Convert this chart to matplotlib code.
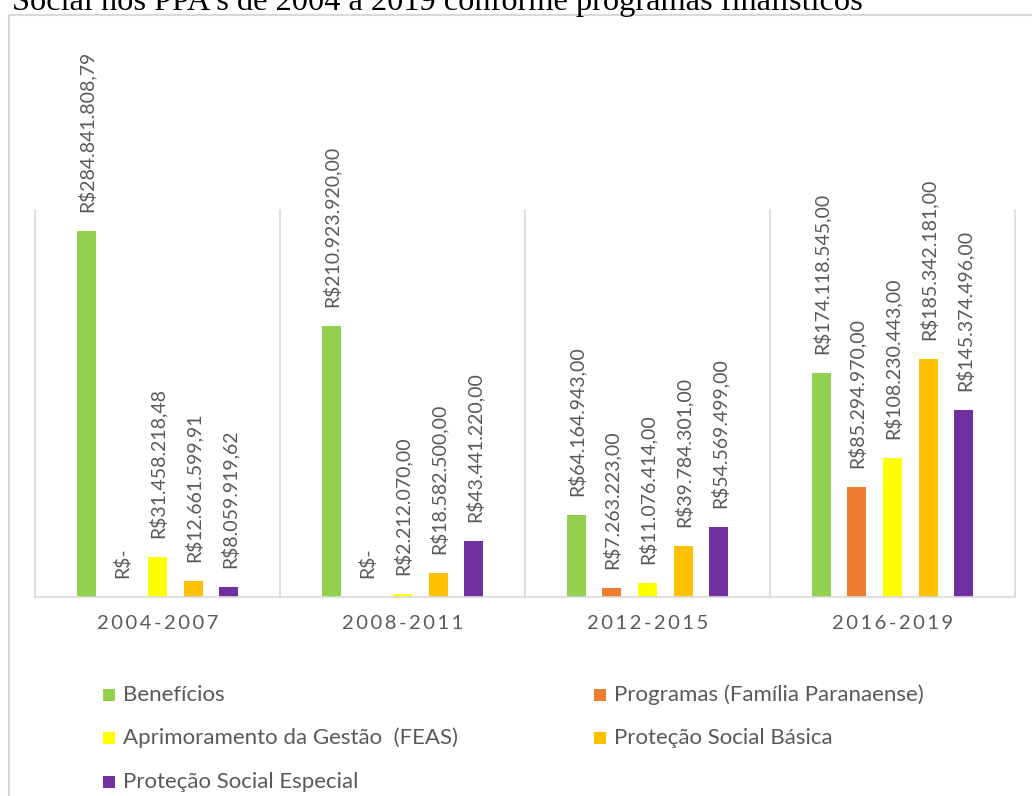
import matplotlib
matplotlib.use("Agg")
import matplotlib.pyplot as plt
from matplotlib.patches import Rectangle
import numpy as np

categories = ["2004-2007", "2008-2011", "2012-2015", "2016-2019"]
series_names = [
    "Benefícios",
    "Programas (Família Paranaense)",
    "Aprimoramento da Gestão  (FEAS)",
    "Proteção Social Básica",
    "Proteção Social Especial",
]
beneficios = [284841808.79, 210923920.00, 64164943.00, 174118545.00]
programas = [0.0, 0.0, 7263223.00, 85294970.00]
aprimoramento = [31458218.48, 2212070.00, 11076414.00, 108230443.00]
protecao_basica = [12661599.91, 18582500.00, 39784301.00, 185342181.00]
protecao_especial = [8059919.62, 43441220.00, 54569499.00, 145374496.00]
series_values = [beneficios, programas, aprimoramento, protecao_basica, protecao_especial]
colors = ["#92D050", "#ED7D31", "#FFFF00", "#FFC000", "#7030A0"]
title = "Social nos PPA's de 2004 a 2019 conforme programas finalísticos"

W, H = 1032, 796
fig = plt.figure(figsize=(W / 100, H / 100), dpi=100)

def fx(px):
    return px / W

def fy(py):
    return 1 - py / H

# outer chart border
fig.patches.append(Rectangle((fx(9), fy(830)), fx(1060), (830 - 15) / H,
                             transform=fig.transFigure, fill=False,
                             edgecolor="#D9D9D9", linewidth=1.5))

# title (cut off at top)
fig.text(fx(12), fy(10), title, fontsize=23.3, family="Liberation Serif",
         color="black", ha="left", va="baseline")

ax = fig.add_axes([fx(35), fy(597), fx(1015) - fx(35), (597 - 210) / H])
ax.set_xlim(-0.5, 3.5)
ax.set_ylim(0, 301e6)
for s in ["top", "right", "left"]:
    ax.spines[s].set_visible(False)
ax.spines["bottom"].set_color("#D9D9D9")
ax.spines["bottom"].set_linewidth(1.2)
for xv in [-0.5, 0.5, 1.5, 2.5, 3.5]:
    ax.axvline(xv, color="#D9D9D9", linewidth=1.2, zorder=0, clip_on=False)
ax.set_yticks([])
ax.set_xticks(range(len(categories)))
ax.set_xticklabels(["\u2009".join(list(c)) for c in categories],
                   fontsize=14.5, color="#595959", family="Lato")
ax.tick_params(axis="x", length=0, pad=13)

def fmt(v):
    if v == 0:
        return "R$-"
    s = f"{v:,.2f}"
    s = s.replace(",", "X").replace(".", ",").replace("X", ".")
    return "R$" + s

step = 0.1457
width = 0.078
x = np.arange(len(categories))
for i, (vals, col, name) in enumerate(zip(series_values, colors, series_names)):
    pos = x + (i - 2) * step
    ax.bar(pos, vals, width=width, color=col, label=name, zorder=2)
    for p, v in zip(pos, vals):
        ax.annotate(fmt(v), (p, v), xytext=(0, 19), textcoords="offset pixels",
                    rotation=90, ha="center", va="bottom", fontsize=14,
                    color="#595959", family="Lato", annotation_clip=False)

# legend in two columns
leg_pos = [(103, 695), (594, 695), (103, 738), (594, 738), (103, 782)]
for idx, (px, py) in enumerate(leg_pos):
    fig.patches.append(Rectangle((fx(px), fy(py + 6)), fx(12), 12 / H,
                                 transform=fig.transFigure, facecolor=colors[idx],
                                 edgecolor="none"))
    fig.text(fx(px + 20), fy(py), series_names[idx], fontsize=16,
             color="#595959", family="Lato", ha="left", va="center")

fig.savefig("out.png", dpi=100)
